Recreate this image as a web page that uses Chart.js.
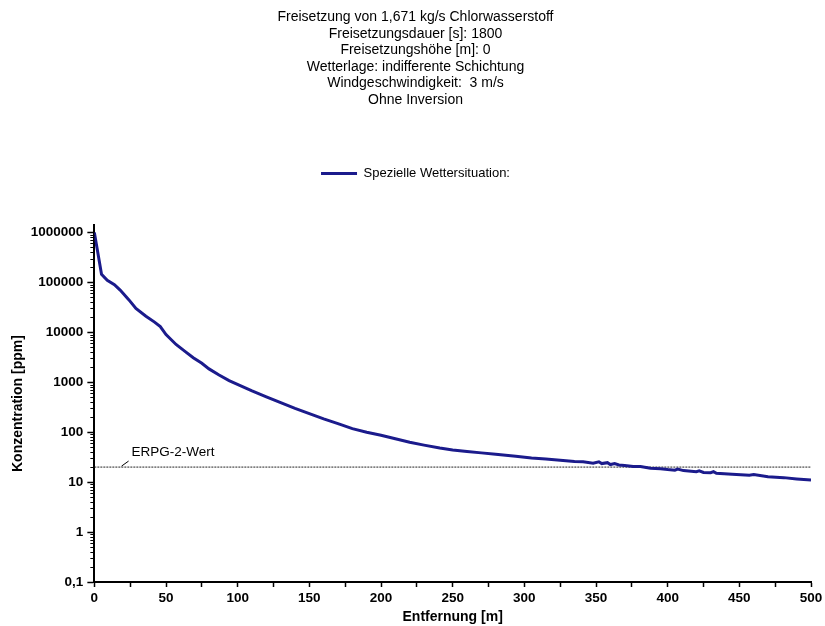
<!DOCTYPE html>
<html lang="de">
<head>
<meta charset="utf-8">
<title>Chlorwasserstoff – Konzentration über Entfernung</title>
<script src="https://cdn.jsdelivr.net/npm/chart.js@4.4.1/dist/chart.umd.min.js"></script>
<style>
  html, body { margin: 0; padding: 0; background: #fff; }
  #wrap { width: 825px; height: 626px; }
</style>
</head>
<body>
<div id="wrap"><canvas id="chart"></canvas></div>
<script>
Chart.defaults.color = '#000';
Chart.defaults.font.family = "'Liberation Sans', Arial, sans-serif";

// Header lines above the chart
const titleLines = [
    'Freisetzung von 1,671 kg/s Chlorwasserstoff',
    'Freisetzungsdauer [s]: 1800',
    'Freisetzungshöhe [m]: 0',
    'Wetterlage: indifferente Schichtung',
    'Windgeschwindigkeit:  3 m/s',
    'Ohne Inversion'
];

// Concentration along the plume axis
const distanceM = [
    0, 5, 9, 14, 18, 24, 29, 36, 42, 46,
    50, 57, 63, 69, 75, 80, 87, 94, 101, 110,
    120, 130, 140, 150, 160, 171, 180, 190, 200, 210,
    220, 230, 241, 250, 260, 270, 280, 294, 305, 315,
    325, 335, 341, 348, 352, 354, 358, 360, 363, 366,
    370, 376, 381, 388, 395, 400, 405, 407, 411, 420,
    422, 425, 430, 432, 434, 445, 457, 460, 470, 481,
    490, 500
];
const concentrationPpm = [
    1000000, 145000, 110000, 90000, 70000, 45000, 30000, 21000, 16000, 13000,
    9000, 5700, 4200, 3100, 2400, 1850, 1400, 1080, 880, 670,
    510, 390, 300, 235, 185, 145, 118, 100, 87, 74,
    63, 55, 48, 44, 41, 38.5, 36, 33, 30.5, 29,
    27.5, 26, 25.5, 24, 25.5, 23.5, 24.5, 22.5, 23.5, 22,
    21.5, 20.6, 20.5, 19, 18.5, 17.8, 17.3, 18.2, 17, 16.2,
    16.8, 15.6, 15.4, 16.2, 15, 14.3, 13.8, 14.2, 12.8, 12.3,
    11.6, 11
];

// ERPG-2 threshold for HCl
const erpg2Ppm = 20;
const erpgRange = [0, 500];

// Decade ticks of the log axis and how they are printed
const yDecades = [0.1, 1, 10, 100, 1000, 10000, 100000, 1000000];
const yTickLabels = ['0,1', '1', '10', '100', '1000', '10000', '100000', '1000000'];

const curveColor = '#1b1b8c';
const yMax = 1.4e6;

// short minor ticks on the log axis (Chart.js has one tickLength for all ticks)
const minorTicks = {
    id: 'minorTicks',
    afterDraw(chart) {
        const y = chart.scales.y;
        const ctx = chart.ctx;
        ctx.save();
        ctx.strokeStyle = '#000';
        ctx.lineWidth = 1;
        y.ticks.forEach(t => {
            if (t.major) return;
            const py = Math.round(y.getPixelForValue(t.value)) + 0.5;
            ctx.beginPath();
            ctx.moveTo(y.right - 4, py);
            ctx.lineTo(y.right, py);
            ctx.stroke();
        });
        ctx.restore();
    }
};

// label of the threshold line with its little leader stroke
const erpgLabel = {
    id: 'erpgLabel',
    afterDatasetsDraw(chart) {
        const { ctx, scales: { x, y } } = chart;
        const px = x.getPixelForValue(19);
        const py = y.getPixelForValue(erpg2Ppm);
        ctx.save();
        ctx.strokeStyle = '#000';
        ctx.lineWidth = 1;
        ctx.beginPath();
        ctx.moveTo(px, py - 1);
        ctx.lineTo(px + 7, py - 6);
        ctx.stroke();
        ctx.fillStyle = '#000';
        ctx.font = "13.5px 'Liberation Sans', Arial, sans-serif";
        ctx.textBaseline = 'alphabetic';
        ctx.fillText('ERPG-2-Wert', px + 10, py - 11);
        ctx.restore();
    }
};

// extra room between legend and plot
const legendGap = {
    id: 'legendGap',
    beforeInit(chart) {
        const fit = chart.legend.fit;
        chart.legend.fit = function () {
            fit.bind(chart.legend)();
            this.height += 35;
        };
    }
};

const ctx = document.getElementById('chart').getContext('2d');

new Chart(ctx, {
    type: 'line',
    data: {
        datasets: [{
            label: 'Spezielle Wettersituation:',
            data: distanceM.map((d, i) => ({ x: d, y: concentrationPpm[i] })),
            borderColor: curveColor,
            backgroundColor: curveColor,
            borderWidth: 3,
            pointRadius: 0,
            tension: 0,
            pointStyle: 'line'
        }, {
            label: 'ERPG-2-Wert',
            data: erpgRange.map(d => ({ x: d, y: erpg2Ppm })),
            borderColor: '#222',
            borderWidth: 1,
            borderDash: [2, 1],
            pointRadius: 0
        }]
    },
    options: {
        responsive: true,
        maintainAspectRatio: false,
        animation: false,
        layout: { padding: { left: 6, right: 0, top: 0, bottom: 0 } },
        plugins: {
            title: {
                display: true,
                text: titleLines,
                font: { size: 14, weight: 'normal', lineHeight: 1.18 },
                padding: { top: 9, bottom: 49 }
            },
            legend: {
                display: true,
                labels: {
                    usePointStyle: true,
                    pointStyleWidth: 36,
                    font: { size: 13 },
                    filter: item => item.datasetIndex === 0
                }
            },
            tooltip: { enabled: false }
        },
        scales: {
            x: {
                type: 'linear',
                min: 0,
                max: 500,
                border: { color: '#000', width: 2 },
                grid: { drawOnChartArea: false, tickLength: 5, tickColor: '#000', tickWidth: 1.5 },
                afterFit(scale) {
                    scale.paddingRight = 14;
                },
                ticks: {
                    stepSize: 25,
                    autoSkip: false,
                    maxRotation: 0,
                    padding: 3,
                    font: { size: 13.5, weight: 'bold' },
                    callback: v => (v % 50 === 0 ? String(v) : '')
                },
                title: {
                    display: true,
                    text: 'Entfernung [m]',
                    font: { size: 14, weight: 'bold' },
                    padding: { top: 0, bottom: 0 }
                }
            },
            y: {
                type: 'logarithmic',
                min: 0.1,
                max: yMax,
                border: { color: '#000', width: 2 },
                grid: {
                    drawOnChartArea: false,
                    tickLength: 7,
                    tickWidth: 1.5,
                    tickColor: c => (c.tick && c.tick.major ? '#000' : 'rgba(0,0,0,0)')
                },
                afterBuildTicks(scale) {
                    const ticks = [];
                    yDecades.forEach(d => {
                        for (let m = 1; m <= 9; m++) {
                            const v = d * m;
                            if (v <= yMax) ticks.push({ value: m === 1 ? d : v, major: m === 1 });
                        }
                    });
                    scale.ticks = ticks;
                },
                ticks: {
                    autoSkip: false,
                    padding: 4,
                    font: { size: 13.5, weight: 'bold' },
                    callback: v => {
                        const i = yDecades.indexOf(v);
                        return i >= 0 ? yTickLabels[i] : '';
                    }
                },
                title: {
                    display: true,
                    text: 'Konzentration [ppm]',
                    font: { size: 14, weight: 'bold' },
                    padding: { top: 4, bottom: 0 }
                }
            }
        }
    },
    plugins: [minorTicks, erpgLabel, legendGap]
});
</script>
</body>
</html>
